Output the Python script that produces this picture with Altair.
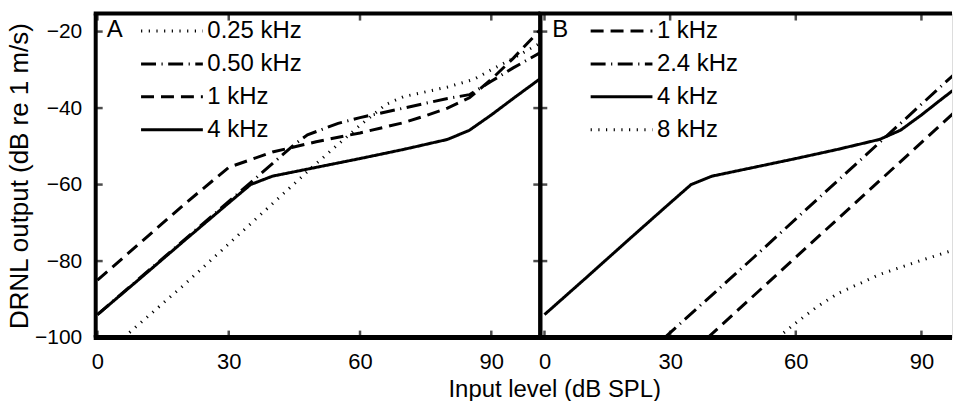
import altair as alt
import pandas as pd

# ---------------- data ----------------
x_ticks = [0, 30, 60, 90]
y_ticks = [-100, -80, -60, -40, -20]

a_names = ["0.25 kHz", "0.50 kHz", "1 kHz", "4 kHz"]
b_names = ["1 kHz", "2.4 kHz", "4 kHz", "8 kHz"]

# Panel A
a_025_x = [6, 20, 30, 40, 50, 60, 66, 70, 80, 86, 90, 95, 101.2]
a_025_y = [-100, -86, -75.5, -65, -54.5, -44.5, -39, -37, -34.5, -32.5, -30, -27, -23]

a_050_x = [0, 35, 45, 48, 55, 60, 70, 80, 85, 90, 95, 101.2]
a_050_y = [-94, -59.5, -49.5, -47, -44, -42.5, -40, -37.5, -36.5, -33, -29.5, -25.5]

a_1_x = [0, 10, 20, 30, 40, 50, 60, 70, 75, 80, 85, 90, 95, 101.2]
a_1_y = [-85, -75, -65, -55.5, -51.5, -48.8, -46.5, -43.8, -42, -40, -37.3, -32.5, -27, -19.5]

k4_x = [0, 10, 20, 30, 35, 40, 50, 60, 70, 80, 85, 90, 95, 101.2]
k4_y = [-94, -84.3, -74.5, -64.8, -60, -57.8, -55.5, -53.2, -50.8, -48.2, -45.8, -41.8, -37.5, -32.3]

# Panel B
b_1_x = [39, 60, 80, 100]
b_1_y = [-100, -79, -59, -39]

b_24_x = [28.7, 50, 70, 100]
b_24_y = [-100, -79, -59, -29]

b_8_x = [55.7, 60, 65, 70, 80, 90, 100]
b_8_y = [-100, -96.2, -92, -88.5, -83.5, -79.8, -76.3]


def series(name, xs, ys):
    return pd.DataFrame({"series": name, "level": xs, "out": ys})


df_a = pd.concat([
    series(a_names[0], a_025_x, a_025_y),
    series(a_names[1], a_050_x, a_050_y),
    series(a_names[2], a_1_x, a_1_y),
    series(a_names[3], k4_x, k4_y),
], ignore_index=True)

df_b = pd.concat([
    series(b_names[0], b_1_x, b_1_y),
    series(b_names[1], b_24_x, b_24_y),
    series(b_names[2], k4_x, k4_y),
    series(b_names[3], b_8_x, b_8_y),
], ignore_index=True)

# ---------------- styles ----------------
FONT = "Liberation Sans"
DOT = [1.2, 6.5]
DASHDOT = [15, 5.5, 1.2, 5.5]
DASH = [13, 7]
SOLID = [1, 0]

H = 325
W_A = 446
W_B = 413
Y_DOM = [-100, -15.3]
BW = 4  # frame width


def panel(df, names, dashes, letter, W, xdom, is_a, legend_x, letter_x):
    xs = alt.Scale(domain=xdom, nice=False, zero=False)
    ys = alt.Scale(domain=Y_DOM, nice=False, zero=False)

    if is_a:
        xaxis = alt.Axis(values=x_ticks, ticks=False, domain=False, grid=False,
                         labelPadding=14, labelFontSize=22, labelFlush=False,
                         labelColor="black", titleFontSize=24, titleFontWeight="normal",
                         titleColor="black", titleX=460, titleY=40,
                         titleAlign="center", titleBaseline="top")
        xtitle = "Input level (dB SPL)"
        yaxis = alt.Axis(values=y_ticks, ticks=False, domain=False, grid=False,
                         labelPadding=14, labelFontSize=21, labelFlush=False,
                         labelColor="black", titleFontSize=26, titleFontWeight="normal",
                         titleColor="black", titlePadding=2)
        ytitle = "DRNL output (dB re 1 m/s)"
    else:
        xaxis = alt.Axis(values=x_ticks, ticks=False, domain=False, grid=False,
                         labelPadding=14, labelFontSize=22, labelFlush=False,
                         labelColor="black")
        xtitle = None
        yaxis = None
        ytitle = None

    def xenc(field):
        return alt.X(field, scale=xs, axis=xaxis, title=xtitle)

    def yenc(field):
        return alt.Y(field, scale=ys, axis=yaxis, title=ytitle)

    legend = alt.Legend(orient="none", legendX=legend_x, legendY=6, title=None,
                        symbolType="stroke", symbolSize=3844, symbolStrokeWidth=3,
                        symbolStrokeColor="black", labelFontSize=24, labelFont=FONT,
                        labelColor="black", labelOffset=3, rowPadding=8, padding=0,
                        clipHeight=23, labelLimit=300)

    lines = alt.Chart(df).mark_line(color="black", strokeWidth=3, clip=True).encode(
        x=xenc("level:Q"),
        y=yenc("out:Q"),
        strokeDash=alt.StrokeDash("series:N",
                                  scale=alt.Scale(domain=names, range=dashes),
                                  legend=legend),
    )

    xt = pd.DataFrame({"v": x_ticks})
    yt = pd.DataFrame({"v": y_ticks})
    tick_bottom = alt.Chart(xt).mark_tick(color="black", thickness=2.5, size=8).encode(
        x=xenc("v:Q"), y=alt.value(H - 3))
    tick_top = alt.Chart(xt).mark_tick(color="black", thickness=2.5, size=8).encode(
        x=xenc("v:Q"), y=alt.value(3))
    tick_left = alt.Chart(yt).mark_tick(color="black", thickness=2.5, size=8).encode(
        y=yenc("v:Q"), x=alt.value(3))

    one = alt.Data(values=[{}])
    top = alt.Chart(one).mark_rule(color="black", strokeWidth=BW).encode(
        x=alt.value(-2), x2=alt.value(W), y=alt.value(0))
    bottom = alt.Chart(one).mark_rule(color="black", strokeWidth=BW + 1).encode(
        x=alt.value(-2), x2=alt.value(W), y=alt.value(H))
    left = alt.Chart(one).mark_rule(color="black", strokeWidth=BW).encode(
        x=alt.value(0), y=alt.value(0), y2=alt.value(H))

    layers = [lines, tick_bottom, tick_top, tick_left, top, bottom, left]
    if is_a:
        tick_right = alt.Chart(yt).mark_tick(color="black", thickness=2.5, size=8).encode(
            y=yenc("v:Q"), x=alt.value(W - 3))
        right = alt.Chart(one).mark_rule(color="black", strokeWidth=BW).encode(
            x=alt.value(W), y=alt.value(0), y2=alt.value(H))
        layers += [tick_right, right]

    label = alt.Chart(alt.Data(values=[{"t": letter}])).mark_text(
        align="left", baseline="middle", fontSize=24, font=FONT, color="black"
    ).encode(text="t:N", x=alt.value(letter_x), y=alt.value(16))
    layers.append(label)

    return alt.layer(*layers).properties(width=W, height=H)


pa = panel(df_a, a_names, [DOT, DASHDOT, DASH, SOLID], "A", W_A, [-0.4, 101.2], True, 44, 11)
pb = panel(df_b, b_names, [DASH, DASHDOT, SOLID, DOT], "B", W_B, [-1, 97.3], False, 49, 12)

chart = alt.hconcat(pa, pb, spacing=0, bounds="flush").resolve_scale(
    strokeDash="independent", x="independent"
).resolve_legend(strokeDash="independent").properties(
    padding={"left": 6, "top": 10, "right": 0, "bottom": 0}
).configure_view(stroke=None).configure(font=FONT)

chart.save("out.html", embed_options={"renderer": "svg", "actions": False})
